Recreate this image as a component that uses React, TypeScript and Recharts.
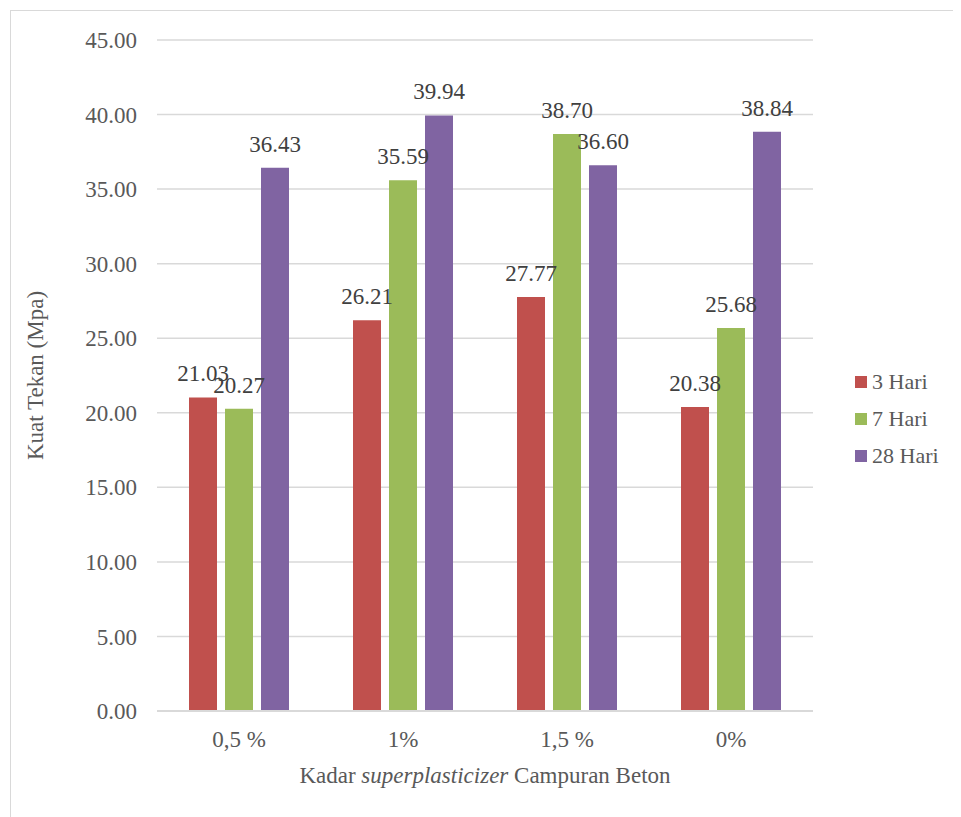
import { Bar, BarChart, CartesianGrid, LabelList, XAxis, YAxis } from "recharts"

const categories = ['0,5 %', '1%', '1,5 %', '0%']
const hari3 = [21.03, 26.21, 27.77, 20.38]
const hari7 = [20.27, 35.59, 38.70, 25.68]
const hari28 = [36.43, 39.94, 36.60, 38.84]
const yTicks = [0, 5, 10, 15, 20, 25, 30, 35, 40, 45]

const series = [
  { key: 'h3', name: '3 Hari', values: hari3, color: '#C0504D' },
  { key: 'h7', name: '7 Hari', values: hari7, color: '#9BBB59' },
  { key: 'h28', name: '28 Hari', values: hari28, color: '#8064A2' },
]

const data = categories.map((name, i) => ({
  name,
  h3: hari3[i],
  h7: hari7[i],
  h28: hari28[i],
}))

const FONT = "'Liberation Serif', 'DejaVu Serif'"
const TEXT = '#595959'

function YTitle({ viewBox }) {
  const cy = viewBox.y + viewBox.height / 2
  return (
    <text x={27} y={cy} transform={`rotate(-90 27 ${cy})`} textAnchor="middle"
      dominantBaseline="central" fill={TEXT} fontSize={23} style={{ fontFamily: FONT }}>
      Kuat Tekan (Mpa)
    </text>
  )
}

function XTitle({ viewBox }) {
  const cx = viewBox.x + viewBox.width / 2
  return (
    <text x={cx} y={775} textAnchor="middle" fill={TEXT} fontSize={23} style={{ fontFamily: FONT }}>
      Kadar <tspan fontStyle="italic">superplasticizer</tspan> Campuran Beton
    </text>
  )
}

export default function App() {
  return (
    <div style={{ position: 'relative', width: 953, height: 809, overflow: 'hidden', fontFamily: FONT }}>
      <div style={{ position: 'absolute', left: 2, top: 2, width: 1000, height: 900, border: '1px solid #d9d9d9' }} />
      <BarChart width={953} height={809} data={data}
        margin={{ top: 32, right: 148, bottom: 0, left: 0 }}
        barSize={28} barGap={8} style={{ fontFamily: FONT }}>
        <CartesianGrid vertical={false} stroke="#d9d9d9" strokeWidth={1.5} />
        <XAxis dataKey="name" height={106} tickLine={false} tickSize={0} tickMargin={20}
          axisLine={{ stroke: '#d9d9d9', strokeWidth: 2 }}
          tick={{ fill: TEXT, fontSize: 23, style: { fontFamily: FONT } }}
          label={<XTitle />} />
        <YAxis width={149} domain={[0, 45]} ticks={yTicks} tickLine={false} tickSize={0} tickMargin={20}
          axisLine={false} tickFormatter={(v) => v.toFixed(2)}
          tick={{ fill: TEXT, fontSize: 23, style: { fontFamily: FONT } }}
          label={<YTitle />} />
        {series.map((s) => (
          <Bar key={s.key} dataKey={s.key} name={s.name} fill={s.color} isAnimationActive={false}>
            <LabelList dataKey={s.key} position="top" offset={16}
              formatter={(v) => Number(v).toFixed(2)}
              fill="#404040" fontSize={23} style={{ fontFamily: FONT }} />
          </Bar>
        ))}
      </BarChart>
      <div style={{ position: 'absolute', left: 847, top: 355, fontSize: 22, color: TEXT }}>
        {series.map((s) => (
          <div key={s.key} style={{ display: 'flex', alignItems: 'center', height: 37 }}>
            <span style={{ width: 12, height: 12, background: s.color, marginRight: 5 }} />
            <span>{s.name}</span>
          </div>
        ))}
      </div>
    </div>
  )
}
